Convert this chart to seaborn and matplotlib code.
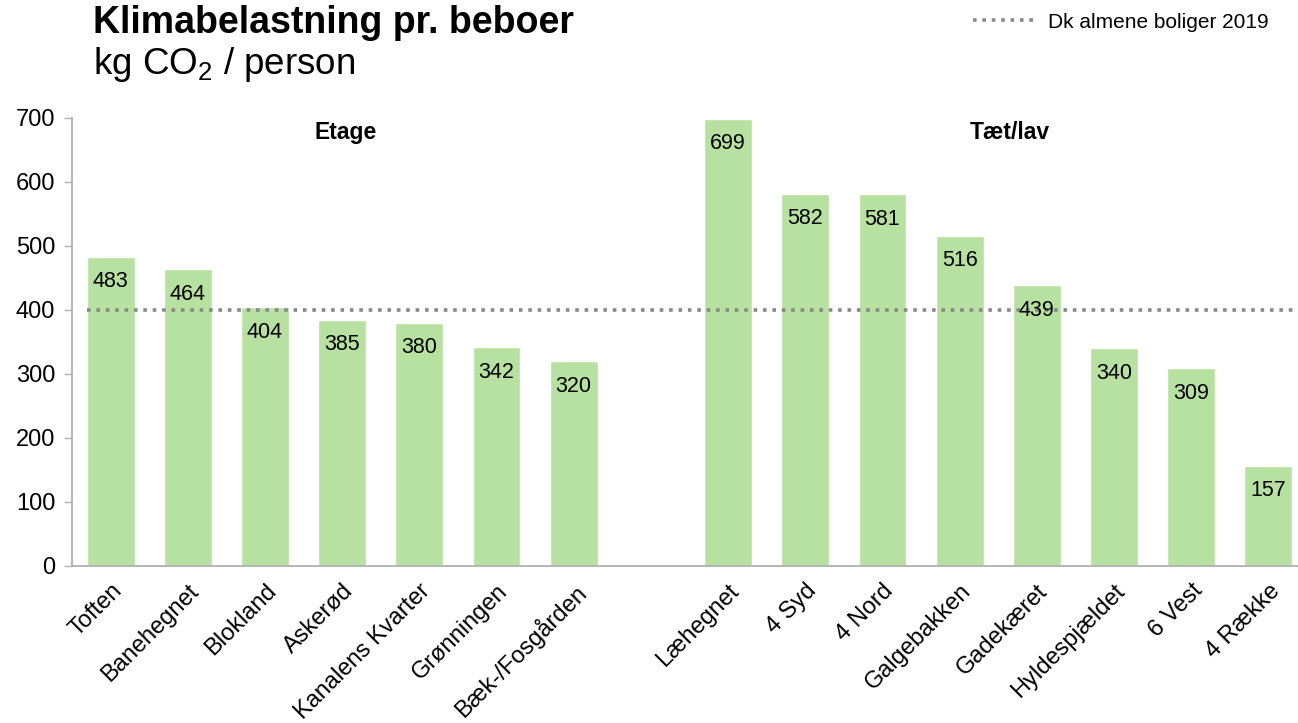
import pandas as pd
import matplotlib
matplotlib.use("Agg")
import matplotlib.pyplot as plt
import seaborn as sns
from matplotlib.lines import Line2D

# data
etage_names = ["Toften", "Banehegnet", "Blokland", "Askerød", "Kanalens Kvarter",
               "Grønningen", "Bæk-/Fosgården"]
etage_values = [483, 464, 404, 385, 380, 342, 320]
taetlav_names = ["Læhegnet", "4 Syd", "4 Nord", "Galgebakken", "Gadekæret",
                 "Hyldespjældet", "6 Vest", "4 Række"]
taetlav_values = [699, 582, 581, 516, 439, 340, 309, 157]
benchmark_value = 400
benchmark_label = "Dk almene boliger 2019"

sns.set_theme(style="white")
plt.rcParams["font.family"] = ["Liberation Sans", "DejaVu Sans"]
plt.rcParams["mathtext.fontset"] = "custom"
plt.rcParams["mathtext.rm"] = "Liberation Sans"
plt.rcParams["text.color"] = "black"
plt.rcParams["xtick.color"] = "black"
plt.rcParams["ytick.color"] = "black"

df = pd.DataFrame({
    "navn": etage_names + taetlav_names,
    "kg": etage_values + taetlav_values,
})
gap = " "
order = etage_names + [gap] + taetlav_names

fig = plt.figure(figsize=(12.98, 7.23), dpi=100)
ax = fig.add_axes([72 / 1298, 157 / 723, 1235 / 1298, 448 / 723])

bar_color = "#b7e1a0"
sns.barplot(data=df, x="navn", y="kg", order=order, color=bar_color,
            width=0.62, saturation=1, ax=ax)

# value labels inside the top of each bar
for name, val in zip(df["navn"], df["kg"]):
    ax.text(order.index(name), val - 39, str(val), ha="center", va="center",
            fontsize=15.5, color="black")

# benchmark dotted line
ax.hlines(benchmark_value, -0.3, 15.5, colors="#888888", linestyles=(0, (1, 1.6)),
          linewidth=2.6)

# group titles
ax.text(3.05, 678, "Etage", ha="center", va="center", fontsize=16.5, fontweight="bold")
ax.text(11.65, 678, "Tæt/lav", ha="center", va="center", fontsize=16.5, fontweight="bold")

ax.set_xlim(-0.5, 15.5)
ax.set_ylim(0, 700)
ax.set_yticks(range(0, 701, 100))
ax.set_xlabel("")
ax.set_ylabel("")
ax.tick_params(axis="y", labelsize=17, length=6, width=1, color="#b0b0b0",
               labelcolor="black", left=True, pad=6)
ax.tick_params(axis="x", labelsize=17, length=0, pad=10, labelcolor="black")
plt.setp(ax.get_xticklabels(), rotation=45, ha="right", rotation_mode="anchor")

for side in ["top", "right"]:
    ax.spines[side].set_visible(False)
for side in ["left", "bottom"]:
    ax.spines[side].set_color("#b0b0b0")
    ax.spines[side].set_linewidth(1.3)

# titles
fig.text(93 / 1298, 1 - 23 / 723, "Klimabelastning pr. beboer", ha="left", va="center",
         fontsize=27, fontweight="bold")
fig.text(93 / 1298, 1 - 65 / 723, r"kg CO$_2$ / person", ha="left", va="center",
         fontsize=26.5)

# legend
handle = Line2D([], [], color="#888888", linestyle=(0, (1, 1.6)), linewidth=2.6)
fig.legend([handle], [benchmark_label], loc="center right",
           bbox_to_anchor=(1277 / 1298, 1 - 22 / 723), frameon=False, fontsize=15,
           handlelength=3.1, handletextpad=0.5, borderaxespad=0)

fig.savefig("out.png", dpi=100)
